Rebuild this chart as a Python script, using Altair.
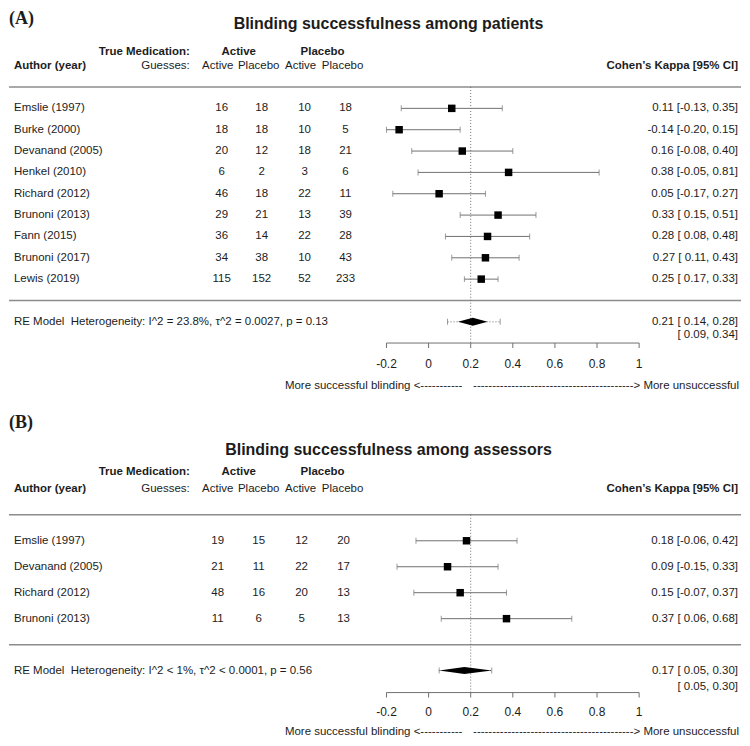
import altair as alt
import pandas as pd

# ---------------- data ----------------
studies_a = ["Emslie (1997)", "Burke (2000)", "Devanand (2005)", "Henkel (2010)",
             "Richard (2012)", "Brunoni (2013)", "Fann (2015)", "Brunoni (2017)", "Lewis (2019)"]
act_act_a = [16, 18, 20, 6, 46, 29, 36, 34, 115]
act_plc_a = [18, 18, 12, 2, 18, 21, 14, 38, 152]
plc_act_a = [10, 10, 18, 3, 22, 13, 22, 10, 52]
plc_plc_a = [18, 5, 21, 6, 11, 39, 28, 43, 233]
kappa_a = [0.11, -0.14, 0.16, 0.38, 0.05, 0.33, 0.28, 0.27, 0.25]
lower_a = [-0.13, -0.20, -0.08, -0.05, -0.17, 0.15, 0.08, 0.11, 0.17]
upper_a = [0.35, 0.15, 0.40, 0.81, 0.27, 0.51, 0.48, 0.43, 0.33]
re_a = [0.21, 0.14, 0.28]          # estimate, CI low, CI high
pi_a = [0.09, 0.34]                # prediction interval
het_a = "RE Model\u00a0\u00a0Heterogeneity: I^2 = 23.8%, \u03c4^2 = 0.0027, p = 0.13"

studies_b = ["Emslie (1997)", "Devanand (2005)", "Richard (2012)", "Brunoni (2013)"]
act_act_b = [19, 21, 48, 11]
act_plc_b = [15, 11, 16, 6]
plc_act_b = [12, 22, 20, 5]
plc_plc_b = [20, 17, 13, 13]
kappa_b = [0.18, 0.09, 0.15, 0.37]
lower_b = [-0.06, -0.15, -0.07, 0.06]
upper_b = [0.42, 0.33, 0.37, 0.68]
re_b = [0.17, 0.05, 0.30]
pi_b = [0.05, 0.30]
het_b = "RE Model\u00a0\u00a0Heterogeneity: I^2 < 1%, \u03c4^2 < 0.0001, p = 0.56"

ticks = [-0.2, 0, 0.2, 0.4, 0.6, 0.8, 1]
tick_labels = ["-0.2", "0", "0.2", "0.4", "0.6", "0.8", "1"]
REF = 0.2

# ---------------- style ----------------
FONT = "Liberation Sans"
SERIF = "Liberation Serif"
TXT = "#1c1c1c"
GRAY = "#707070"
SEP = "#8c8c8c"
FS = 11.5
W = 734


def fmt(k, lo, hi):
    return f"{k:.2f} [{lo:5.2f}, {hi:.2f}]"


def label(txt, x, y, align="left", bold=False, size=FS, font=FONT, baseline="middle"):
    return alt.Chart(pd.DataFrame({"t": [txt]})).mark_text(
        align=align, baseline=baseline, font=font, fontSize=size,
        fontWeight="bold" if bold else "normal", color=TXT
    ).encode(x=alt.value(x), y=alt.value(y), text="t:N")


def panel(tag, title, studies, aa, ap, pa, pp, kap, lo, hi, re, pi, het, g):
    n = len(studies)
    xs = alt.Scale(domain=[ticks[0], ticks[-1]], range=[378, 631], nice=False, zero=False)
    ys = alt.Scale(domain=[1, n], range=[g["row1"], g["row1"] + (n - 1) * g["sp"]],
                   nice=False, zero=False)

    def X(f):
        return alt.X(f, type="quantitative", scale=xs, axis=None)

    def Y(f):
        return alt.Y(f, type="quantitative", scale=ys, axis=None)

    df = pd.DataFrame(dict(row=list(range(1, n + 1)), study=studies, aa=aa, ap=ap,
                           pa=pa, pp=pp, k=kap, lo=lo, hi=hi))
    df["lab"] = [fmt(k, l, h) for k, l, h in zip(kap, lo, hi)]
    base = alt.Chart(df)
    row_re = n + 2
    row0_px = g["row1"] - g["sp"]
    L = []

    # separators
    L.append(alt.Chart(pd.DataFrame({"row": [0, n + 1]})).mark_rule(
        color=SEP, strokeWidth=1.5).encode(y=Y("row"), x=alt.value(0), x2=alt.value(W - 1)))
    # reference line
    L.append(alt.Chart(pd.DataFrame({"ref": [REF]})).mark_rule(
        color=GRAY, strokeDash=[1, 2], strokeWidth=1).encode(
        x=X("ref"), y=alt.value(row0_px), y2=alt.value(g["axis"])))
    # CIs
    L.append(base.mark_rule(color=GRAY, strokeWidth=1).encode(
        x=X("lo"), x2=alt.X2("hi"), y=Y("row")))
    for f in ["lo", "hi"]:
        L.append(base.mark_tick(orient="vertical", size=6, thickness=1, color=GRAY).encode(
            x=X(f), y=Y("row")))
    # squares
    L.append(base.mark_square(size=56, color="black", opacity=1).encode(x=X("k"), y=Y("row")))
    # table text
    L.append(base.mark_text(align="left", baseline="middle", font=FONT, fontSize=FS,
                            color=TXT).encode(x=alt.value(5), y=Y("row"), text="study:N"))
    for f, cx in zip(["aa", "ap", "pa", "pp"], g["cols"]):
        L.append(base.mark_text(align="center", baseline="middle", font=FONT, fontSize=FS,
                                color=TXT).encode(x=alt.value(cx), y=Y("row"), text=f"{f}:N"))
    L.append(base.mark_text(align="right", baseline="middle", font=FONT, fontSize=FS,
                            color=TXT).encode(x=alt.value(730), y=Y("row"), text="lab:N"))

    # RE model: prediction interval
    pid = pd.DataFrame({"a": [pi[0]], "b": [pi[1]], "row": [row_re]})
    L.append(alt.Chart(pid).mark_rule(color=GRAY, strokeDash=[1, 2], strokeWidth=1).encode(
        x=X("a"), x2=alt.X2("b"), y=Y("row")))
    for f in ["a", "b"]:
        L.append(alt.Chart(pid).mark_tick(orient="vertical", size=6, thickness=1,
                                          color=GRAY).encode(x=X(f), y=Y("row")))
    # diamond
    h = g["dh"] / g["sp"]
    dd = pd.DataFrame({"x": [re[1], re[0], re[2]], "hh": [0, h, 0]})
    dd["y1"] = row_re - dd["hh"]
    dd["y2"] = row_re + dd["hh"]
    L.append(alt.Chart(dd).mark_area(color="black", orient="vertical", opacity=1).encode(
        x=X("x"), y=Y("y1"), y2=alt.Y2("y2")))
    # RE text
    red = pd.DataFrame({"row": [row_re], "t": [het], "lab": [fmt(*re)]})
    L.append(alt.Chart(red).mark_text(align="left", baseline="middle", font=FONT, fontSize=FS,
                                      color=TXT).encode(x=alt.value(5), y=Y("row"), text="t:N"))
    L.append(alt.Chart(red).mark_text(align="right", baseline="middle", font=FONT, fontSize=FS,
                                      color=TXT).encode(x=alt.value(730), y=Y("row"), text="lab:N"))
    L.append(label(f"[{pi[0]:5.2f}, {pi[1]:.2f}]", 730, g["pi_px"], align="right"))

    # axis
    L.append(alt.Chart(pd.DataFrame({"a": [ticks[0]], "b": [ticks[-1]]})).mark_rule(
        color=GRAY, strokeWidth=1).encode(x=X("a"), x2=alt.X2("b"), y=alt.value(g["axis"])))
    tdf = pd.DataFrame({"v": ticks, "t": tick_labels})
    L.append(alt.Chart(tdf).mark_rule(color=GRAY, strokeWidth=1).encode(
        x=X("v"), y=alt.value(g["axis"]), y2=alt.value(g["axis"] + 5)))
    L.append(alt.Chart(tdf).mark_text(align="center", baseline="middle", font=FONT,
                                      fontSize=12, color=TXT).encode(
        x=X("v"), y=alt.value(g["tick_px"]), text="t:N"))
    L.append(label("More successful blinding <" + "-" * 11, 454, g["arrow_px"], align="right"))
    L.append(label("-" * 42 + "> More unsuccessful", 731, g["arrow_px"], align="right"))

    # headers
    L.append(label(tag, 0, g["tag_px"], bold=True, size=18, font=SERIF))
    L.append(label(title, 380, g["title_px"], align="center", bold=True, size=16))
    L.append(label("True Medication:", 181, g["tm_px"], align="right", bold=True))
    L.append(label("Active", 230, g["tm_px"], align="center", bold=True))
    L.append(label("Placebo", 314, g["tm_px"], align="center", bold=True))
    hdr = row0_px - g["sp"]
    L.append(label("Author (year)", 5, hdr, bold=True))
    L.append(label("Guesses:", 181, hdr, align="right"))
    for t, cx in zip(["Active", "Placebo", "Active", "Placebo"], [209, 250, 292, 334]):
        L.append(label(t, cx, hdr, align="center"))
    L.append(label("Cohen\u2019s Kappa [95% CI]", 730, hdr, align="right", bold=True))

    return alt.layer(*L).properties(width=W, height=g["height"])


geo_a = dict(height=388, row1=100, sp=21.375, cols=[213, 253, 296, 337], axis=335,
             tick_px=356, arrow_px=378, pi_px=327, dh=4, tag_px=11, title_px=16, tm_px=44)
geo_b = dict(height=342, row1=145, sp=26, cols=[209, 250, 293, 335], axis=297,
             tick_px=316, arrow_px=336, pi_px=291, dh=3.5, tag_px=27, title_px=54, tm_px=76)

pa_chart = panel("(A)", "Blinding successfulness among patients", studies_a, act_act_a,
                 act_plc_a, plc_act_a, plc_plc_a, kappa_a, lower_a, upper_a, re_a, pi_a,
                 het_a, geo_a)
pb_chart = panel("(B)", "Blinding successfulness among assessors", studies_b, act_act_b,
                 act_plc_b, plc_act_b, plc_plc_b, kappa_b, lower_b, upper_b, re_b, pi_b,
                 het_b, geo_b)

chart = alt.vconcat(pa_chart, pb_chart, spacing=0, padding=0,
                    background="white").configure_view(strokeWidth=0, stroke="transparent")

chart.save("out.html", embed_options={"renderer": "svg", "actions": False})
